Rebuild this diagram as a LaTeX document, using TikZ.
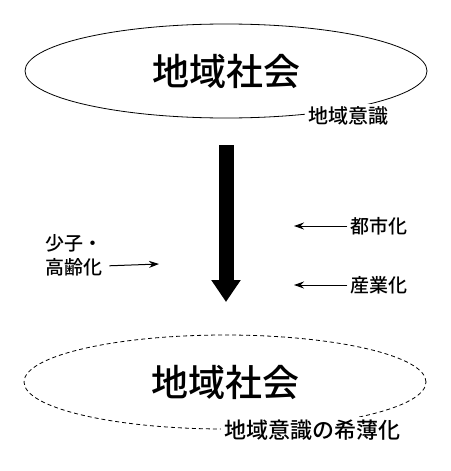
\documentclass[tikz,border=0pt]{standalone}
\usepackage{fontspec}
\setmainfont{Noto Sans CJK JP}
\newfontfamily\medfont{Noto Sans CJK JP}[UprightFont=* Medium]
\usepackage{tikz}
\usetikzlibrary{arrows.meta,positioning,shapes.geometric}
\tikzset{
  society/.style={ellipse,draw,line width=0.8pt,minimum width=402pt,%
    minimum height=94pt,inner sep=0pt,font=\medfont\fontsize{37}{40}\selectfont},
  aware/.style={fill=white,inner sep=3pt,font=\medfont\fontsize{20}{24}\selectfont},
  factor/.style={inner sep=3pt,font=\medfont\fontsize{19}{24}\selectfont},
  flow/.style={-{Stealth[length=10pt,width=7pt]},line width=1pt},
  bigflow/.style={-{Triangle[length=22pt,width=28pt]},line width=15pt},
}

\begin{document}
\begin{tikzpicture}[x=1pt,y=-1pt]
\useasboundingbox (0,0) rectangle (450,471);
% before
\node[society] (soc1) at (226,71) {地域社会};
\node[aware] (ishiki1) at (348,116) {地域意識};
% after
\node[society,dashed,dash pattern=on 4pt off 3pt] (soc2) at (225,382) {地域社会};
\node[aware,font=\medfont\fontsize{22}{26}\selectfont] (ishiki2) at (312,430) {地域意識の希薄化};
% change
\coordinate (top) at (226,145);
\coordinate (bot) at (226,302);
\draw[bigflow] (top) -- (bot);
% factors
\node[factor] (toshi) at (379,226) {都市化};
\node[factor] (sangyo) at (379,285) {産業化};
\node[factor,anchor=west] (shoshi) at (42,243) {少子・};
\node[factor,below=0pt of shoshi.south west,anchor=north west] (korei) {高齢化};
\coordinate (t1) at (294,226);
\coordinate (t2) at (294,285);
\coordinate (k1) at (159,264);
\draw[flow] (toshi) -- (t1);
\draw[flow] (sangyo) -- (t2);
\draw[flow,shorten <=4pt] (korei) -- (k1);
\end{tikzpicture}
\end{document}
